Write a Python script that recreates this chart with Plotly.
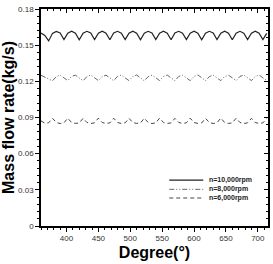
import plotly.graph_objects as go

degree = [360, 366, 372, 378, 384, 390, 396, 402, 408, 414,
          420, 426, 432, 438, 444, 450, 456, 462, 468, 474,
          480, 486, 492, 498, 504, 510, 516, 522, 528, 534,
          540, 546, 552, 558, 564, 570, 576, 582, 588, 594,
          600, 606, 612, 618, 624, 630, 636, 642, 648, 654,
          660, 666, 672, 678, 684, 690, 696, 702, 708, 714]

n10000 = [0.1600, 0.1580, 0.1535, 0.1598, 0.1614, 0.1601, 0.1546, 0.1600, 0.1616, 0.1600,
          0.1545, 0.1599, 0.1615, 0.1601, 0.1547, 0.1600, 0.1616, 0.1599, 0.1545, 0.1601,
          0.1615, 0.1600, 0.1546, 0.1600, 0.1616, 0.1600, 0.1545, 0.1599, 0.1615, 0.1601,
          0.1546, 0.1600, 0.1616, 0.1600, 0.1545, 0.1601, 0.1615, 0.1599, 0.1546, 0.1600,
          0.1616, 0.1600, 0.1545, 0.1599, 0.1615, 0.1601, 0.1546, 0.1600, 0.1616, 0.1600,
          0.1545, 0.1600, 0.1615, 0.1600, 0.1546, 0.1600, 0.1616, 0.1600, 0.1547, 0.1598]

n8000 = [0.1250, 0.1236, 0.1219, 0.1204, 0.1240, 0.1252, 0.1229, 0.1206, 0.1241, 0.1251,
         0.1228, 0.1205, 0.1239, 0.1252, 0.1230, 0.1206, 0.1240, 0.1251, 0.1229, 0.1205,
         0.1241, 0.1253, 0.1228, 0.1206, 0.1240, 0.1252, 0.1229, 0.1204, 0.1239, 0.1251,
         0.1230, 0.1206, 0.1240, 0.1252, 0.1228, 0.1205, 0.1241, 0.1251, 0.1229, 0.1206,
         0.1240, 0.1253, 0.1230, 0.1205, 0.1239, 0.1252, 0.1228, 0.1206, 0.1240, 0.1251,
         0.1229, 0.1205, 0.1241, 0.1252, 0.1230, 0.1206, 0.1240, 0.1253, 0.1229, 0.1207]

n6000 = [0.0872, 0.0853, 0.0856, 0.0893, 0.0859, 0.0850, 0.0856, 0.0894, 0.0858, 0.0851,
         0.0855, 0.0893, 0.0859, 0.0850, 0.0856, 0.0895, 0.0858, 0.0851, 0.0855, 0.0894,
         0.0859, 0.0850, 0.0856, 0.0893, 0.0858, 0.0851, 0.0855, 0.0894, 0.0859, 0.0850,
         0.0856, 0.0895, 0.0858, 0.0851, 0.0855, 0.0893, 0.0859, 0.0850, 0.0856, 0.0894,
         0.0858, 0.0851, 0.0855, 0.0893, 0.0859, 0.0850, 0.0856, 0.0895, 0.0858, 0.0851,
         0.0855, 0.0894, 0.0859, 0.0850, 0.0856, 0.0893, 0.0858, 0.0851, 0.0855, 0.0892]

series_names = ["n=10,000rpm", "n=8,000rpm", "n=6,000rpm"]
series_values = [n10000, n8000, n6000]
series_colors = ["#222222", "#666666", "#444444"]
series_dash = ["solid", "5px,2px,1px,2px,1px,2px", "4px,3px"]
series_width = [1.2, 1.0, 1.0]

FONT = "Arial, Liberation Sans, sans-serif"

fig = go.Figure()
for name, vals, col, dash, w in zip(series_names, series_values, series_colors, series_dash, series_width):
    fig.add_trace(go.Scatter(x=degree, y=vals, mode="lines", name=name,
                             line=dict(color=col, dash=dash, width=w), showlegend=False))

# invisible trace for mirrored (inside-tick) axes
fig.add_trace(go.Scatter(x=[400], y=[0.1], xaxis="x2", yaxis="y2", mode="markers",
                         marker=dict(opacity=0), showlegend=False, hoverinfo="skip"))

xr = [360, 716]
yr = [0, 0.18]
fig.update_layout(
    width=273, height=264,
    margin=dict(l=36, r=5, t=5, b=33),
    paper_bgcolor="white", plot_bgcolor="white",
    font=dict(family=FONT, color="#222222", size=8),
    xaxis=dict(range=xr, dtick=50, tick0=400, ticks="outside", ticklen=4, tickwidth=1,
               showline=True, linecolor="black", linewidth=1.5, showgrid=False, zeroline=False,
               minor=dict(dtick=10, ticks="outside", ticklen=2, tickcolor="black"),
               tickcolor="black", tickfont=dict(size=8, color="#333333"),
               title=dict(text="<b>Degree(°)</b>", font=dict(size=16, color="black"), standoff=4)),
    yaxis=dict(range=yr, dtick=0.03, tick0=0, ticks="outside", ticklen=4, tickwidth=1,
               showline=True, linecolor="black", linewidth=1.5, showgrid=False, zeroline=False,
               minor=dict(dtick=0.006, ticks="outside", ticklen=2, tickcolor="black"),
               tickcolor="black", tickfont=dict(size=8, color="#333333"),
               title=dict(text="<b>Mass flow rate(kg/s)</b>", font=dict(size=16, color="black"), standoff=2)),
    xaxis2=dict(range=xr, overlaying="x", side="top", dtick=50, tick0=400, ticks="inside",
                ticklen=4, showticklabels=False, showline=True, linecolor="black", linewidth=1.5,
                showgrid=False, zeroline=False, tickcolor="black",
                minor=dict(dtick=10, ticks="inside", ticklen=2, tickcolor="black")),
    yaxis2=dict(range=yr, overlaying="y", side="right", dtick=0.03, tick0=0, ticks="inside",
                ticklen=4, showticklabels=False, showline=True, linecolor="black", linewidth=1.5,
                showgrid=False, zeroline=False, tickcolor="black",
                minor=dict(dtick=0.006, ticks="inside", ticklen=2, tickcolor="black")),
)

# manual compact legend
leg_y = [0.211, 0.169, 0.129]
for name, col, dash, w, yy in zip(series_names, series_colors, series_dash, series_width, leg_y):
    fig.add_shape(type="line", xref="paper", yref="paper", x0=0.565, x1=0.715, y0=yy, y1=yy,
                  line=dict(color=col, dash=dash, width=w))
    fig.add_annotation(xref="paper", yref="paper", x=0.733, y=yy, xanchor="left", yanchor="middle",
                       text="<b>" + name + "</b>", showarrow=False,
                       font=dict(size=7, color="#222222", family=FONT))

fig.write_html("out.html")
